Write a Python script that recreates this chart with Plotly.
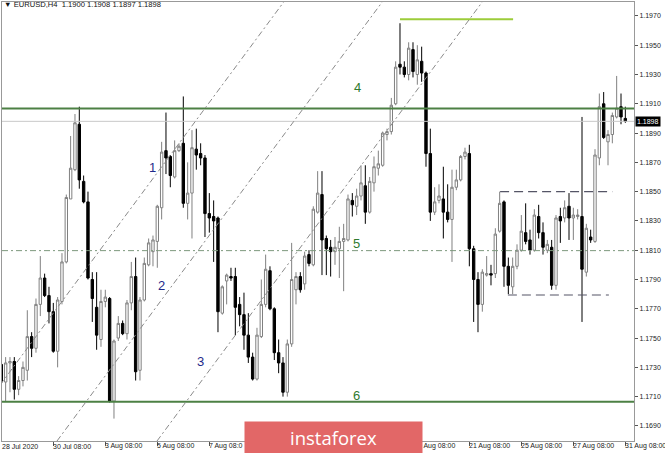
import plotly.graph_objects as go

# ---------------- data (EURUSD H4) ----------------
opens = [1.1732, 1.1720, 1.1733, 1.1734, 1.1715, 1.1721, 1.1728, 1.1751, 1.1743, 1.1773,
         1.1791, 1.1779, 1.1768, 1.1741, 1.1775, 1.1802, 1.1845, 1.1865, 1.1896, 1.1857,
         1.1843, 1.1790, 1.1771, 1.1749, 1.1775, 1.1777, 1.1707, 1.1750, 1.1760, 1.1753,
         1.1774, 1.1792, 1.1728, 1.1776, 1.1800, 1.1809, 1.1816, 1.1839, 1.1878, 1.1874,
         1.1860, 1.1878, 1.1883, 1.1842, 1.1849, 1.1879, 1.1876, 1.1873, 1.1835, 1.1833,
         1.1832, 1.1767, 1.1789, 1.1792, 1.1792, 1.1773, 1.1766, 1.1752, 1.1737, 1.1722,
         1.1751, 1.1773, 1.1796, 1.1770, 1.1740, 1.1733, 1.1713, 1.1746, 1.1783, 1.1792,
         1.1787, 1.1807, 1.1800, 1.1836, 1.1848, 1.1818, 1.1812, 1.1809, 1.1811, 1.1816,
         1.1817, 1.1844, 1.1840, 1.1847, 1.1854, 1.1836, 1.1856, 1.1866, 1.1868, 1.1889,
         1.1891, 1.1910, 1.1937, 1.1935, 1.1930, 1.1947, 1.1930, 1.1939, 1.1931, 1.1876,
         1.1836, 1.1844, 1.1845, 1.1836, 1.1831, 1.1853, 1.1858, 1.1874, 1.1876, 1.1811,
         1.1790, 1.1773, 1.1793, 1.1794, 1.1794, 1.1823, 1.1843, 1.1799, 1.1785, 1.1799,
         1.1810, 1.1822, 1.1817, 1.1810, 1.1833, 1.1822, 1.1810, 1.1812, 1.1786, 1.1833,
         1.1832, 1.1840, 1.1832, 1.1833, 1.1833, 1.1795, 1.1819, 1.1816, 1.1873, 1.1910,
         1.1884, 1.1889, 1.1901, 1.1908, 1.1900]
highs = [1.1740, 1.1737, 1.1737, 1.1737, 1.1724, 1.1734, 1.1769, 1.1754, 1.1777, 1.1806,
         1.1794, 1.1785, 1.1774, 1.1778, 1.1808, 1.1848, 1.1888, 1.1903, 1.1908, 1.1861,
         1.1850, 1.1795, 1.1795, 1.1783, 1.1783, 1.1778, 1.1749, 1.1765, 1.1762, 1.1776,
         1.1802, 1.1805, 1.1778, 1.1805, 1.1818, 1.1820, 1.1841, 1.1884, 1.1904, 1.1875,
         1.1885, 1.1883, 1.1915, 1.1870, 1.1892, 1.1893, 1.1883, 1.1875, 1.1849, 1.1844,
         1.1833, 1.1786, 1.1794, 1.1798, 1.1798, 1.1778, 1.1781, 1.1767, 1.1740, 1.1757,
         1.1790, 1.1807, 1.1799, 1.1771, 1.1749, 1.1737, 1.1749, 1.1815, 1.1795, 1.1795,
         1.1809, 1.1810, 1.1840, 1.1864, 1.1864, 1.1820, 1.1817, 1.1819, 1.1826, 1.1828,
         1.1848, 1.1849, 1.1852, 1.1868, 1.1868, 1.1860, 1.1874, 1.1878, 1.1891, 1.1893,
         1.1914, 1.1939, 1.1965, 1.1939, 1.1952, 1.1952, 1.1950, 1.1949, 1.1932, 1.1893,
         1.1853, 1.1855, 1.1867, 1.1855, 1.1865, 1.1865, 1.1875, 1.1880, 1.1882, 1.1813,
         1.1795, 1.1797, 1.1806, 1.1800, 1.1825, 1.1850, 1.1844, 1.1805, 1.1805, 1.1814,
         1.1834, 1.1842, 1.1824, 1.1838, 1.1841, 1.1829, 1.1817, 1.1817, 1.1834, 1.1839,
         1.1844, 1.1849, 1.1839, 1.1838, 1.1901, 1.1828, 1.1824, 1.1879, 1.1917, 1.1918,
         1.1892, 1.1904, 1.1929, 1.1917, 1.1908]
lows = [1.1701, 1.1707, 1.1713, 1.1708, 1.1711, 1.1717, 1.1721, 1.1737, 1.1740, 1.1765,
        1.1778, 1.1760, 1.1740, 1.1730, 1.1773, 1.1801, 1.1845, 1.1864, 1.1852, 1.1842,
        1.1790, 1.1761, 1.1742, 1.1744, 1.1771, 1.1706, 1.1695, 1.1748, 1.1752, 1.1749,
        1.1769, 1.1721, 1.1721, 1.1775, 1.1799, 1.1799, 1.1798, 1.1831, 1.1862, 1.1853,
        1.1859, 1.1877, 1.1839, 1.1831, 1.1818, 1.1865, 1.1868, 1.1819, 1.1822, 1.1802,
        1.1754, 1.1766, 1.1773, 1.1789, 1.1752, 1.1758, 1.1742, 1.1733, 1.1721, 1.1721,
        1.1750, 1.1771, 1.1769, 1.1735, 1.1726, 1.1710, 1.1710, 1.1744, 1.1773, 1.1781,
        1.1783, 1.1799, 1.1799, 1.1835, 1.1793, 1.1793, 1.1792, 1.1800, 1.1791, 1.1782,
        1.1816, 1.1833, 1.1834, 1.1844, 1.1828, 1.1835, 1.1850, 1.1861, 1.1867, 1.1885,
        1.1889, 1.1909, 1.1930, 1.1928, 1.1926, 1.1928, 1.1923, 1.1925, 1.1867, 1.1830,
        1.1834, 1.1842, 1.1818, 1.1829, 1.1802, 1.1851, 1.1857, 1.1872, 1.1799, 1.1761,
        1.1754, 1.1768, 1.1792, 1.1786, 1.1791, 1.1822, 1.1785, 1.1780, 1.1780, 1.1797,
        1.1809, 1.1814, 1.1807, 1.1809, 1.1818, 1.1807, 1.1808, 1.1783, 1.1783, 1.1815,
        1.1829, 1.1817, 1.1817, 1.1831, 1.1761, 1.1792, 1.1815, 1.1815, 1.1868, 1.1886,
        1.1868, 1.1883, 1.1900, 1.1896, 1.1897]
closes = [1.1720, 1.1733, 1.1734, 1.1715, 1.1721, 1.1730, 1.1751, 1.1743, 1.1773, 1.1791,
          1.1779, 1.1768, 1.1741, 1.1776, 1.1802, 1.1846, 1.1866, 1.1897, 1.1858, 1.1843,
          1.1791, 1.1777, 1.1752, 1.1775, 1.1778, 1.1707, 1.1748, 1.1760, 1.1753, 1.1774,
          1.1792, 1.1727, 1.1776, 1.1801, 1.1815, 1.1817, 1.1840, 1.1877, 1.1873, 1.1861,
          1.1878, 1.1881, 1.1842, 1.1849, 1.1880, 1.1875, 1.1873, 1.1835, 1.1832, 1.1830,
          1.1768, 1.1785, 1.1793, 1.1791, 1.1771, 1.1766, 1.1752, 1.1737, 1.1722, 1.1752,
          1.1773, 1.1797, 1.1770, 1.1740, 1.1733, 1.1713, 1.1746, 1.1790, 1.1792, 1.1783,
          1.1806, 1.1801, 1.1838, 1.1849, 1.1817, 1.1811, 1.1809, 1.1812, 1.1816, 1.1818,
          1.1845, 1.1841, 1.1847, 1.1856, 1.1836, 1.1857, 1.1867, 1.1869, 1.1890, 1.1891,
          1.1909, 1.1935, 1.1935, 1.1930, 1.1948, 1.1932, 1.1940, 1.1931, 1.1876, 1.1836,
          1.1843, 1.1847, 1.1836, 1.1831, 1.1853, 1.1858, 1.1874, 1.1877, 1.1811, 1.1790,
          1.1773, 1.1795, 1.1794, 1.1793, 1.1821, 1.1842, 1.1799, 1.1786, 1.1799, 1.1810,
          1.1823, 1.1816, 1.1810, 1.1834, 1.1822, 1.1812, 1.1814, 1.1786, 1.1832, 1.1830,
          1.1839, 1.1832, 1.1834, 1.1834, 1.1797, 1.1825, 1.1817, 1.1875, 1.1908, 1.1887,
          1.1889, 1.1902, 1.1907, 1.1901, 1.1898]
bar_index = list(range(len(opens)))

# x-axis labels that are visible (the banner hides 11, 13, 17 Aug and parts of 7 / 19 Aug)
tick_marks = [12, 24, 36, 48, 60, 72, 84, 96, 108, 120, 132, 144]
label_index = [0.16, 12, 24, 36, 48, 96.25, 108, 120, 132, 144]
label_text = ["28 Jul 2020", "30 Jul 08:00", "3 Aug 08:00", "5 Aug 08:00", "7 Aug 08:0",
              "9 Aug 08:00", "21 Aug 08:00", "25 Aug 08:00", "27 Aug 08:00", "31 Aug 08:00"]

level_4 = 1.19068
level_6 = 1.17065
level_5 = 1.18097
last_price = 1.1898
top_mark = (92.0, 118.1, 1.19677)
range_high = (115.1, 141.0, 1.1850)
range_low = (116.9, 140.2, 1.17794)
channel_lines = [(-0.3, 1.17179, 65.52, 1.19809),
                 (12.85, 1.16797, 88.25, 1.19809),
                 (35.93, 1.16797, 111.33, 1.19809)]
wave_labels = [("1", 35.0, 1.18662, "#1f2a8a"), ("2", 36.9, 1.17856, "#1f2a8a"),
               ("3", 45.9, 1.17343, "#1f2a8a"), ("4", 82.1, 1.19208, "#2f7a2f"),
               ("5", 81.9, 1.18149, "#2f7a2f"), ("6", 81.9, 1.17111, "#2f7a2f")]
header = "EURUSD,H4  1.1900 1.1908 1.1897 1.1898"

# ---------------- figure ----------------
FONT = "Liberation Sans, Arial, DejaVu Sans"
fig = go.Figure()
fig.add_trace(go.Candlestick(
    x=bar_index, open=opens, high=highs, low=lows, close=closes,
    increasing=dict(line=dict(color="#808080", width=1), fillcolor="#ffffff"),
    decreasing=dict(line=dict(color="#000000", width=1), fillcolor="#000000"),
    whiskerwidth=0, hoverinfo="skip", showlegend=False))

shapes = []
def hline(y, color, width, dash="solid", x0=None, x1=None):
    if x0 is None:
        shapes.append(dict(type="line", xref="paper", yref="y", x0=0, x1=1, y0=y, y1=y,
                           line=dict(color=color, width=width, dash=dash)))
    else:
        shapes.append(dict(type="line", xref="x", yref="y", x0=x0, x1=x1, y0=y, y1=y,
                           line=dict(color=color, width=width, dash=dash)))

hline(last_price, "#c8c8c8", 1)
hline(level_5, "#7d987d", 1, "6px,3px,2px,3px")
hline(level_4, "#4c8044", 2)
hline(level_6, "#4c8044", 2)
hline(top_mark[2], "#9ccc3a", 2, x0=top_mark[0], x1=top_mark[1])
hline(range_high[2], "#555566", 1.2, "9px,5px", range_high[0], range_high[1])
hline(range_low[2], "#555566", 1.2, "9px,5px", range_low[0], range_low[1])
for (x0, y0, x1, y1) in channel_lines:
    shapes.append(dict(type="line", xref="x", yref="y", x0=x0, y0=y0, x1=x1, y1=y1,
                       line=dict(color="#8a8a8a", width=1, dash="6px,3px,2px,3px")))

annotations = []
for txt, xi, yp, col in wave_labels:
    annotations.append(dict(x=xi, y=yp, xref="x", yref="y", text=txt, showarrow=False,
                            font=dict(family=FONT, size=13, color=col)))
for xi, txt in zip(label_index, label_text):
    annotations.append(dict(x=xi, y=-0.0125, xref="x", yref="paper", text=txt,
                            showarrow=False, xanchor="left", yanchor="middle",
                            borderpad=0, xshift=-1,
                            font=dict(family=FONT, size=7, color="#222222")))
annotations.append(dict(x=0.0, y=0.9935, xref="paper", yref="paper",
                        text="\u25bc " + header, showarrow=False, xanchor="left",
                        yanchor="middle", font=dict(family=FONT, size=7.6, color="#111111")))
annotations.append(dict(x=1.0, y=last_price, xref="paper", yref="y", text="1.1898",
                        showarrow=False, xanchor="left", yanchor="middle", xshift=1,
                        bgcolor="#000000", borderpad=1,
                        font=dict(family=FONT, size=7, color="#ffffff")))
annotations.append(dict(x=0.5244, y=0.008, xref="paper", yref="paper", text="instaforex",
                        showarrow=False, xanchor="center", yanchor="middle",
                        width=177, height=31, bgcolor="#e26767", borderpad=0,
                        font=dict(family="Open Sans, Lato, sans-serif", size=18.5,
                                  color="#ffffff")))

fig.update_layout(
    width=665, height=453,
    margin=dict(l=2, r=31, t=2, b=12, autoexpand=False),
    paper_bgcolor="#ffffff", plot_bgcolor="#ffffff",
    showlegend=False, boxgap=0.45, boxgroupgap=0,
    shapes=shapes, annotations=annotations,
    xaxis=dict(range=[0.16, 146.0], rangeslider=dict(visible=False),
               showgrid=False, zeroline=False, showticklabels=False,
               tickvals=tick_marks, ticks="outside", ticklen=4,
               tickcolor="#555555", showline=True, mirror=True,
               linecolor="#999999", linewidth=1, automargin=False),
    yaxis=dict(range=[1.16797, 1.19795], side="right", showgrid=False, zeroline=False,
               tick0=1.1690, dtick=0.002, tickformat=".4f", ticks="outside",
               ticklen=3, tickcolor="#555555", showline=True, mirror=True,
               linecolor="#999999", linewidth=1, automargin=False,
               tickfont=dict(family=FONT, size=7, color="#222222")),
)

fig.write_html("out.html", config={"displayModeBar": False},
               post_script="document.body.style.margin='0';document.body.style.padding='0';")
